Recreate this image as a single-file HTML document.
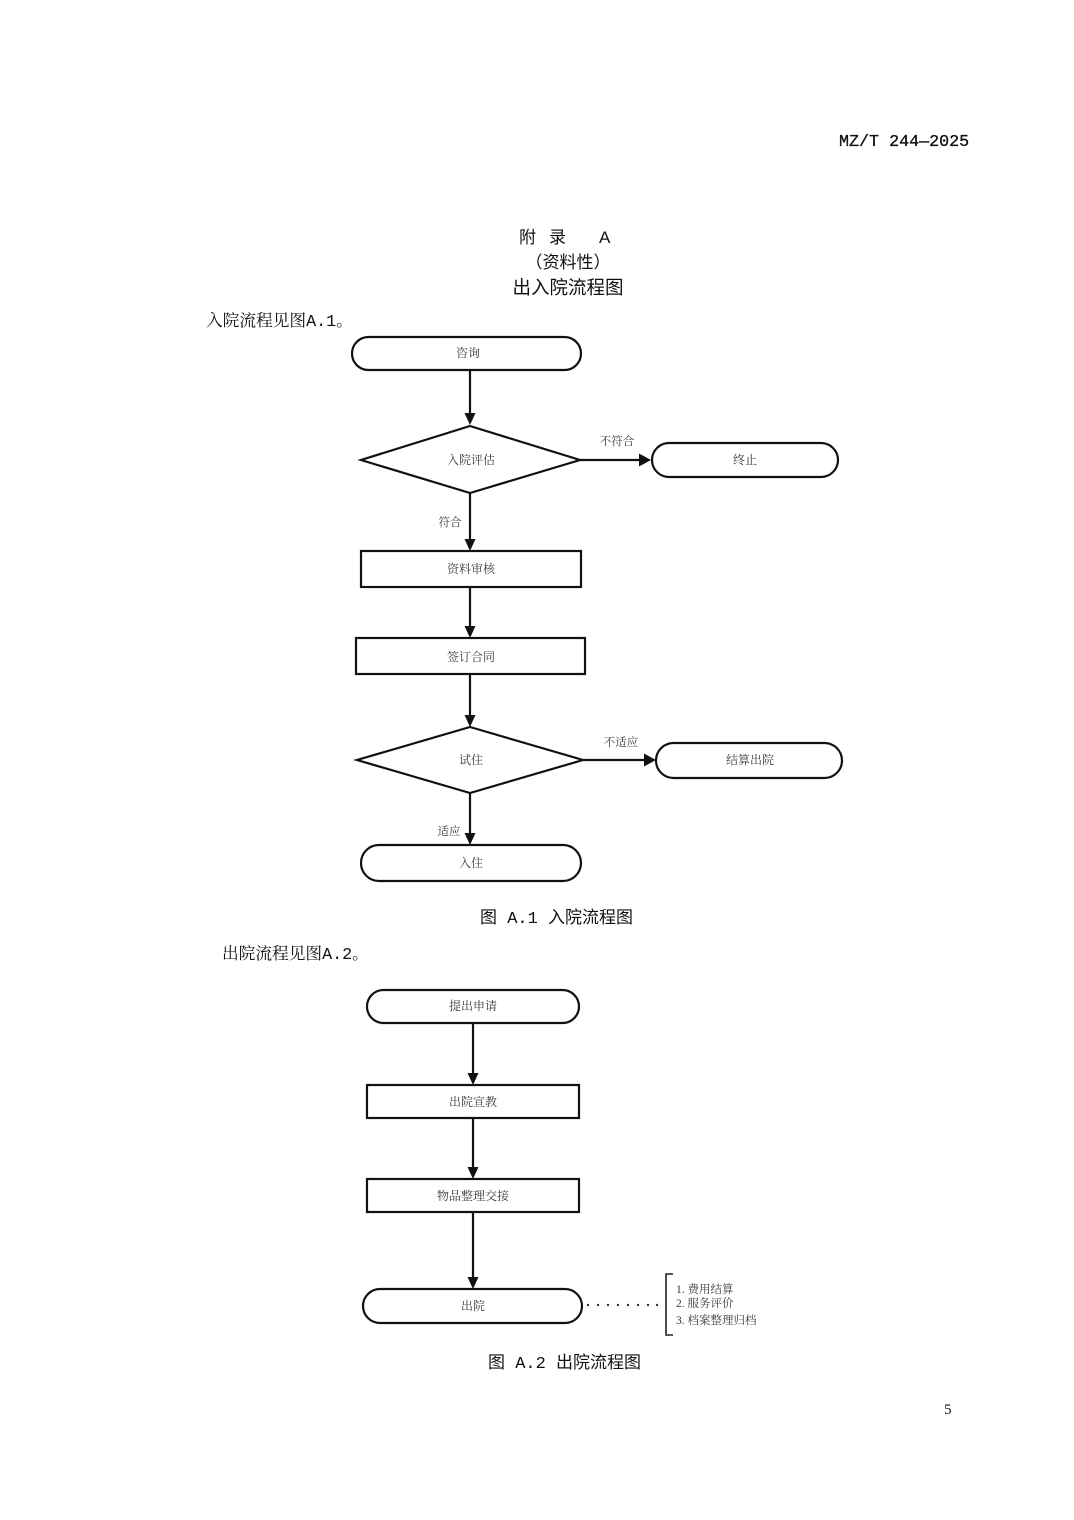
<!DOCTYPE html>
<html>
<head>
<meta charset="utf-8">
<style>
html,body{margin:0;padding:0;background:#fff;}
body{width:1074px;height:1520px;overflow:hidden;}
svg{display:block;}
.hei{font-family:"Liberation Sans","Noto Sans CJK SC",sans-serif;fill:#111;}
.heim{font-family:"Liberation Mono","Noto Sans CJK SC",monospace;fill:#111;}
.song{font-family:"Liberation Serif","Noto Serif CJK SC",serif;fill:#111;}
.songm{font-family:"Liberation Mono","Noto Serif CJK SC",monospace;fill:#111;}
.node{font-family:"Liberation Serif","Noto Serif CJK SC",serif;fill:#3a3a3a;font-size:12px;}
.lab{font-family:"Liberation Serif","Noto Serif CJK SC",serif;fill:#3a3a3a;font-size:11.5px;}
.mono{font-family:"Liberation Mono","Noto Sans CJK SC",monospace;fill:#111;}
</style>
</head>
<body>
<svg width="1074" height="1520" viewBox="0 0 1074 1520" xmlns="http://www.w3.org/2000/svg">
<rect x="0" y="0" width="1074" height="1520" fill="#fff"/>

<!-- header -->
<text class="mono" x="839" y="146" font-size="16.7" stroke="#111" stroke-width="0.3">MZ/T 244—2025</text>

<!-- titles -->
<text class="hei" x="519" y="243" font-size="17">附</text>
<text class="hei" x="549" y="243" font-size="17">录</text>
<text class="hei" x="599" y="243" font-size="17">A</text>
<text class="hei" x="568" y="268" font-size="17" text-anchor="middle">（资料性）</text>
<text class="hei" x="568" y="294" font-size="18.5" text-anchor="middle">出入院流程图</text>

<text class="songm" x="206" y="326" font-size="16.7">入院流程见图A.1。</text>

<!-- Flow 1 -->
<g fill="none" stroke="#111" stroke-width="2.2">
  <rect x="352" y="337" width="229" height="33" rx="16.5"/>
  <polygon points="470,426 580,460 470,493 361,460"/>
  <rect x="652" y="443" width="186" height="34" rx="17"/>
  <rect x="361" y="551" width="220" height="36"/>
  <rect x="356" y="638" width="229" height="36"/>
  <polygon points="470,727 583,760 470,793 357,760"/>
  <rect x="656" y="743" width="186" height="35" rx="17.5"/>
  <rect x="361" y="845" width="220" height="36" rx="18"/>
  <!-- connectors -->
  <line x1="470" y1="370" x2="470" y2="414"/>
  <line x1="580" y1="460" x2="640" y2="460"/>
  <line x1="470" y1="493" x2="470" y2="540"/>
  <line x1="470" y1="587" x2="470" y2="627"/>
  <line x1="470" y1="674" x2="470" y2="715"/>
  <line x1="583" y1="760" x2="644" y2="760"/>
  <line x1="470" y1="793" x2="470" y2="834"/>
</g>
<g fill="#111">
  <polygon points="470,425 464.5,413 475.5,413"/>
  <polygon points="651,460 639,453.5 639,466.5"/>
  <polygon points="470,551 464.5,539 475.5,539"/>
  <polygon points="470,638 464.5,626 475.5,626"/>
  <polygon points="470,727 464.5,715 475.5,715"/>
  <polygon points="656,760 644,753.5 644,766.5"/>
  <polygon points="470,845 464.5,833 475.5,833"/>
</g>
<text class="node" x="468" y="357" text-anchor="middle">咨询</text>
<text class="node" x="471" y="464" text-anchor="middle">入院评估</text>
<text class="node" x="745" y="464" text-anchor="middle">终止</text>
<text class="node" x="471" y="573" text-anchor="middle">资料审核</text>
<text class="node" x="471" y="661" text-anchor="middle">签订合同</text>
<text class="node" x="471" y="764" text-anchor="middle">试住</text>
<text class="node" x="750" y="764" text-anchor="middle">结算出院</text>
<text class="node" x="471" y="867" text-anchor="middle">入住</text>
<text class="lab" x="617" y="445" text-anchor="middle">不符合</text>
<text class="lab" x="450" y="526" text-anchor="middle">符合</text>
<text class="lab" x="621" y="746" text-anchor="middle">不适应</text>
<text class="lab" x="449" y="835" text-anchor="middle">适应</text>

<text class="heim" x="480" y="923" font-size="17">图 A.1 入院流程图</text>
<text class="songm" x="222" y="959" font-size="16.7">出院流程见图A.2。</text>

<!-- Flow 2 -->
<g fill="none" stroke="#111" stroke-width="2.2">
  <rect x="367" y="990" width="212" height="33" rx="16.5"/>
  <rect x="367" y="1085" width="212" height="33"/>
  <rect x="367" y="1179" width="212" height="33"/>
  <rect x="363" y="1289" width="219" height="34" rx="17"/>
  <line x1="473" y1="1023" x2="473" y2="1073"/>
  <line x1="473" y1="1118" x2="473" y2="1167"/>
  <line x1="473" y1="1212" x2="473" y2="1277"/>
</g>
<g fill="#111">
  <polygon points="473,1085 467.5,1073 478.5,1073"/>
  <polygon points="473,1179 467.5,1167 478.5,1167"/>
  <polygon points="473,1289 467.5,1277 478.5,1277"/>
</g>
<g fill="#333">
  <circle cx="588" cy="1305" r="1.2"/>
  <circle cx="598" cy="1305" r="1.2"/>
  <circle cx="608" cy="1305" r="1.2"/>
  <circle cx="618" cy="1305" r="1.2"/>
  <circle cx="628" cy="1305" r="1.2"/>
  <circle cx="638" cy="1305" r="1.2"/>
  <circle cx="648" cy="1305" r="1.2"/>
  <circle cx="657" cy="1305" r="1.2"/>
</g>
<path d="M673,1274 L666,1274 L666,1335 L673,1335" fill="none" stroke="#222" stroke-width="1.6"/>
<text class="node" x="473" y="1010" text-anchor="middle">提出申请</text>
<text class="node" x="473" y="1106" text-anchor="middle">出院宣教</text>
<text class="node" x="473" y="1200" text-anchor="middle">物品整理交接</text>
<text class="node" x="473" y="1310" text-anchor="middle">出院</text>
<text class="lab" x="676" y="1293" font-size="11">1. 费用结算</text>
<text class="lab" x="676" y="1307" font-size="11">2. 服务评价</text>
<text class="lab" x="676" y="1324" font-size="11">3. 档案整理归档</text>

<text class="heim" x="488" y="1368" font-size="17">图 A.2 出院流程图</text>

<text class="song" x="944" y="1414" font-size="15">5</text>
</svg>
</body>
</html>
